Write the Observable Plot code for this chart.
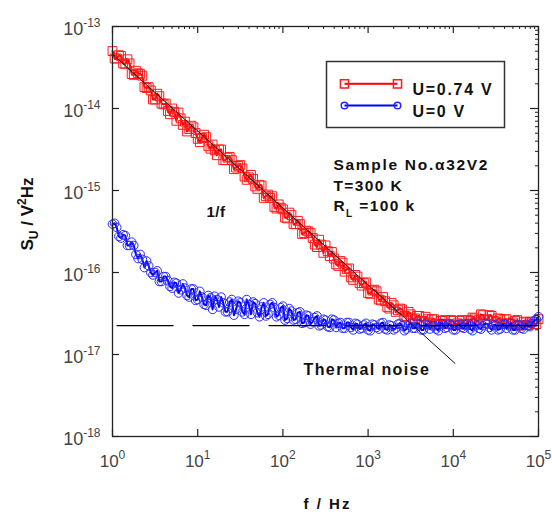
<!DOCTYPE html>
<html><head><meta charset="utf-8">
<script src="https://cdn.jsdelivr.net/npm/d3@7"></script>
<script src="https://cdn.jsdelivr.net/npm/@observablehq/plot@0.6"></script>
<style>
body{margin:0;background:#fff;}
#wrap{width:552px;height:515px;}
</style></head><body><div id="wrap"></div>
<script>
// ---- data (log10 of frequency / Hz and of S_U / V^2Hz) ----
const logF = [0.00,0.05,0.10,0.15,0.20,0.25,0.30,0.35,0.40,0.45,0.50,0.55,0.60,0.65,0.70,0.75,0.80,0.85,0.90,0.95,
  1.00,1.05,1.10,1.15,1.20,1.25,1.30,1.35,1.40,1.45,1.50,1.55,1.60,1.65,1.70,1.75,1.80,1.85,1.90,1.95,
  2.00,2.05,2.10,2.15,2.20,2.25,2.30,2.35,2.40,2.45,2.50,2.55,2.60,2.65,2.70,2.75,2.80,2.85,2.90,2.95,
  3.00,3.05,3.10,3.15,3.20,3.25,3.30,3.35,3.40,3.45,3.50,3.55,3.60,3.65,3.70,3.75,3.80,3.85,3.90,3.95,
  4.00,4.05,4.10,4.15,4.20,4.25,4.30,4.35,4.40,4.45,4.50,4.55,4.60,4.65,4.70,4.75,4.80,4.85,4.90,4.95,5.00];
const redLogS = [-13.30,-13.39,-13.36,-13.46,-13.45,-13.59,-13.57,-13.60,-13.75,-13.78,-13.89,-13.85,-13.95,-14.03,-14.00,-14.15,-14.12,-14.16,-14.25,-14.23,
  -14.37,-14.36,-14.35,-14.49,-14.51,-14.50,-14.63,-14.60,-14.63,-14.72,-14.69,-14.83,-14.84,-14.86,-14.98,-14.94,-15.07,-15.09,-15.20,-15.17,
  -15.23,-15.34,-15.30,-15.41,-15.41,-15.52,-15.50,-15.58,-15.69,-15.66,-15.67,-15.80,-15.83,-15.92,-15.88,-15.96,-16.06,-16.03,-16.13,-16.13,
  -16.25,-16.22,-16.23,-16.34,-16.35,-16.44,-16.40,-16.46,-16.45,-16.54,-16.51,-16.56,-16.53,-16.59,-16.57,-16.57,-16.63,-16.59,-16.58,-16.63,
  -16.59,-16.62,-16.58,-16.64,-16.59,-16.56,-16.58,-16.52,-16.57,-16.53,-16.60,-16.57,-16.57,-16.62,-16.61,-16.58,-16.64,-16.61,-16.60,-16.63,-16.57];
const blueLogS = [-15.41,-15.45,-15.58,-15.55,-15.67,-15.67,-15.83,-15.84,-15.86,-16.00,-16.00,-16.11,-16.05,-16.10,-16.19,-16.13,-16.21,-16.19,-16.30,-16.20,
  -16.33,-16.30,-16.40,-16.31,-16.29,-16.42,-16.37,-16.48,-16.33,-16.45,-16.37,-16.51,-16.39,-16.36,-16.49,-16.42,-16.53,-16.39,-16.43,-16.52,
  -16.41,-16.56,-16.47,-16.57,-16.48,-16.61,-16.53,-16.60,-16.53,-16.64,-16.58,-16.67,-16.58,-16.62,-16.68,-16.61,-16.67,-16.62,-16.69,-16.64,
  -16.70,-16.63,-16.67,-16.62,-16.69,-16.64,-16.70,-16.63,-16.65,-16.69,-16.62,-16.68,-16.63,-16.70,-16.64,-16.65,-16.69,-16.62,-16.68,-16.63,
  -16.70,-16.64,-16.67,-16.63,-16.69,-16.62,-16.68,-16.65,-16.63,-16.70,-16.64,-16.69,-16.63,-16.65,-16.70,-16.64,-16.68,-16.63,-16.66,-16.59,-16.54];
// in-between spectral points
const logFMid = [0.025,0.075,0.125,0.175,0.225,0.275,0.325,0.375,0.425,0.475,0.525,0.575,0.625,0.675,0.725,0.775,0.825,0.875,0.925,0.975,
  1.025,1.075,1.125,1.175,1.225,1.275,1.325,1.375,1.425,1.475,1.525,1.575,1.625,1.675,1.725,1.775,1.825,1.875,1.925,1.975,
  2.025,2.075,2.125,2.175,2.225,2.275,2.325,2.375,2.425,2.475,2.525,2.575,2.625,2.675,2.725,2.775,2.825,2.875,2.925,2.975,
  3.025,3.075,3.125,3.175,3.225,3.275,3.325,3.375,3.425,3.475,3.525,3.575,3.625,3.675,3.725,3.775,3.825,3.875,3.925,3.975,
  4.025,4.075,4.125,4.175,4.225,4.275,4.325,4.375,4.425,4.475,4.525,4.575,4.625,4.675,4.725,4.775,4.825,4.875,4.925,4.975];
const redMidLogS = [-13.39,-13.35,-13.45,-13.40,-13.58,-13.54,-13.58,-13.74,-13.74,-13.89,-13.82,-13.94,-13.94,-14.07,-14.04,-14.05,-14.20,-14.28,-14.21,-14.30,
  -14.41,-14.32,-14.46,-14.44,-14.57,-14.50,-14.63,-14.59,-14.74,-14.70,-14.73,-14.87,-14.81,-14.95,-14.93,-15.09,-15.05,-15.07,-15.22,-15.21,
  -15.33,-15.27,-15.41,-15.37,-15.53,-15.49,-15.52,-15.66,-15.60,-15.76,-15.74,-15.75,-15.90,-15.86,-15.99,-15.95,-16.09,-16.05,-16.16,-16.12,
  -16.26,-16.21,-16.33,-16.30,-16.42,-16.37,-16.48,-16.44,-16.53,-16.48,-16.57,-16.53,-16.60,-16.54,-16.61,-16.57,-16.63,-16.59,-16.63,-16.58,
  -16.64,-16.59,-16.63,-16.58,-16.55,-16.60,-16.51,-16.58,-16.52,-16.59,-16.56,-16.62,-16.57,-16.63,-16.59,-16.65,-16.60,-16.64,-16.60,-16.63];
const blueMidLogS = [-15.40,-15.56,-15.54,-15.67,-15.63,-15.78,-15.78,-15.94,-15.92,-16.03,-15.98,-16.11,-16.05,-16.17,-16.12,-16.25,-16.14,-16.28,-16.20,-16.34,
  -16.23,-16.39,-16.28,-16.45,-16.33,-16.30,-16.48,-16.36,-16.52,-16.35,-16.48,-16.33,-16.51,-16.38,-16.54,-16.37,-16.51,-16.37,-16.54,-16.43,
  -16.58,-16.44,-16.58,-16.49,-16.62,-16.52,-16.63,-16.55,-16.65,-16.57,-16.66,-16.57,-16.67,-16.61,-16.68,-16.61,-16.70,-16.63,-16.68,-16.62,
  -16.71,-16.64,-16.69,-16.61,-16.70,-16.65,-16.68,-16.62,-16.71,-16.64,-16.68,-16.62,-16.70,-16.63,-16.69,-16.65,-16.71,-16.62,-16.67,-16.64,
  -16.70,-16.63,-16.68,-16.62,-16.71,-16.64,-16.69,-16.62,-16.67,-16.64,-16.70,-16.63,-16.68,-16.62,-16.70,-16.64,-16.69,-16.65,-16.62,-16.57];
const fitF = [1, 10470];          // 1/f fit line
const fitS = [4.6e-14, 7.8e-18];
const thermalF = [1.13, 1e5];     // thermal noise level
const thermalS = [2.25e-17, 2.25e-17];
const seriesNames = ["U=0.74 V", "U=0 V"];
const xTicks = [1, 10, 100, 1000, 1e4, 1e5];
const xTickExp = ["0", "1", "2", "3", "4", "5"];
const yTicks = [1e-18, 1e-17, 1e-16, 1e-15, 1e-14, 1e-13];
const yTickExp = ["-18", "-17", "-16", "-15", "-14", "-13"];
const infoLines = ["Sample No.\u03b132V2", "T=300 K", "R_{L} =100 k"];
const xTitle = "f / Hz", yTitle = "S_{U} / V^{2}Hz";

// ---- build ----
const W = 552, H = 515, mL = 112, mR = 14, mT = 26, mB = 79;
const iw = W - mL - mR, ih = H - mT - mB;
function series(logS, midS) {
  const a = logF.map((lf, i) => ({f: Math.pow(10, lf), s: Math.pow(10, logS[i])}));
  const b = logFMid.map((lf, i) => ({f: Math.pow(10, lf), s: Math.pow(10, midS[i])}));
  return a.concat(b).sort((p, q) => p.f - q.f);
}
const red = series(redLogS, redMidLogS);
const blue = series(blueLogS, blueMidLogS);
const fit = fitF.map((f, i) => ({f, s: fitS[i]}));
const thermal = thermalF.map((f, i) => ({f, s: thermalS[i]}));
const xMinor = [], yMinor = [];
for (let d = 0; d < 5; d++) for (let k = 2; k <= 9; k++) xMinor.push(k * Math.pow(10, d));
for (let e = -18; e < -13; e++) for (let k = 2; k <= 9; k++) yMinor.push(k * Math.pow(10, e));

const FONT = 'Arial, "Liberation Sans", sans-serif';
const INK = "#222";
const TXT = "#111";
const at = (px, py) => ({frameAnchor: "top-left", dx: px - mL, dy: py - mT});

const plot = Plot.plot({
  width: W, height: H, marginLeft: mL, marginRight: mR, marginTop: mT, marginBottom: mB,
  style: {fontFamily: FONT, background: "white", overflow: "visible"},
  x: {type: "log", domain: [1, 1e5], axis: null},
  y: {type: "log", domain: [1e-18, 1e-13], axis: null},
  marks: [
    Plot.line(red, {x: "f", y: "s", stroke: "#ff0000", strokeWidth: 2}),
    Plot.dot(red, {x: "f", y: "s", symbol: "square", r: 5, stroke: "#ff1a1a", strokeWidth: 1, fill: "none"}),
    Plot.line(blue, {x: "f", y: "s", stroke: "#0000ff", strokeWidth: 2}),
    Plot.dot(blue, {x: "f", y: "s", symbol: "circle", r: 4.3, stroke: "#2a2aff", strokeWidth: 1, fill: "none"}),
    Plot.line(thermal, {x: "f", y: "s", stroke: "#000", strokeWidth: 1.4, strokeDasharray: "56,20"}),
    Plot.line(fit, {x: "f", y: "s", stroke: "#111", strokeWidth: 1}),
    Plot.frame({stroke: INK, strokeWidth: 1.3}),
    // ticks (inward)
    Plot.ruleX(xTicks, {x: d => d, insetTop: ih - 7, stroke: INK, strokeWidth: 1.2}),
    Plot.ruleX(xTicks, {x: d => d, insetBottom: ih - 7, stroke: INK, strokeWidth: 1.2}),
    Plot.ruleX(xMinor, {x: d => d, insetBottom: ih - 3, stroke: INK, strokeWidth: 1}),
    Plot.ruleY(yTicks, {y: d => d, insetRight: iw - 7, stroke: INK, strokeWidth: 1.2}),
    Plot.ruleY(yTicks, {y: d => d, insetLeft: iw - 8, stroke: INK, strokeWidth: 1.2}),
    Plot.ruleY(yMinor, {y: d => d, insetLeft: iw - 3, stroke: INK, strokeWidth: 1}),
    // tick labels
    Plot.text(xTicks, {x: d => d, frameAnchor: "bottom", dy: 30, text: (d, i) => "10^{" + xTickExp[i] + "}",
      fontSize: 17, fill: "#444", textAnchor: "middle"}),
    Plot.text(yTicks, {y: d => d, frameAnchor: "left", dx: -12, dy: 3, text: (d, i) => "10^{" + yTickExp[i] + "}",
      fontSize: 18, fill: "#444", textAnchor: "end"}),
    // axis titles
    Plot.text([xTitle], {frameAnchor: "bottom", dx: 2, dy: 72, fontSize: 15, fontWeight: "bold", fill: TXT}),
    Plot.text([yTitle], {frameAnchor: "left", dx: -85, dy: 19, rotate: -90, textAnchor: "start", fontSize: 17, fontWeight: "bold", fill: TXT}),
    // legend box and samples
    Plot.frame({insetLeft: 326 - mL, insetRight: mL + iw - 504, insetTop: 61 - mT, insetBottom: mT + ih - 127, stroke: "#333", strokeWidth: 1.5}),
    Plot.frame({insetLeft: 344 - mL, insetRight: mL + iw - 397, insetTop: 82.3 - mT, insetBottom: mT + ih - 84.3, fill: "#ff0000", stroke: "none"}),
    Plot.frame({insetLeft: 344 - mL, insetRight: mL + iw - 397, insetTop: 104 - mT, insetBottom: mT + ih - 106, fill: "#0000ff", stroke: "none"}),
    Plot.dot([seriesNames[0]], {...at(344, 83.3), symbol: "square", r: 4.6, stroke: "#ff1a1a", fill: "none"}),
    Plot.dot([seriesNames[0]], {...at(397, 83.3), symbol: "square", r: 4.6, stroke: "#ff1a1a", fill: "none"}),
    Plot.dot([seriesNames[1]], {...at(344, 105), symbol: "circle", r: 3.3, stroke: "#2a2aff", fill: "none"}),
    Plot.dot([seriesNames[1]], {...at(397, 105), symbol: "circle", r: 3.3, stroke: "#2a2aff", fill: "none"}),
    Plot.text([seriesNames[0]], {...at(412, 83.5), textAnchor: "start", fontSize: 16, fontWeight: "bold", fill: TXT}),
    Plot.text([seriesNames[1]], {...at(412, 105.5), textAnchor: "start", fontSize: 16, fontWeight: "bold", fill: TXT}),
    // annotations
    Plot.text([infoLines[0]], {...at(333, 158), textAnchor: "start", fontSize: 15.5, fontWeight: "bold", fill: TXT}),
    Plot.text([infoLines[1]], {...at(333, 179), textAnchor: "start", fontSize: 15.5, fontWeight: "bold", fill: TXT}),
    Plot.text([infoLines[2]], {...at(333, 199), textAnchor: "start", fontSize: 15.5, fontWeight: "bold", fill: TXT}),
    Plot.text(["1/f"], {...at(206, 206), textAnchor: "start", fontSize: 15, fontWeight: "bold", fill: TXT}),
    Plot.text(["Thermal noise"], {...at(303, 363), textAnchor: "start", fontSize: 16, fontWeight: "bold", fill: TXT})
  ]
});

// letter spacing per text, and rich text: ^{..} superscript, _{..} subscript
const spacingMap = {
  [seriesNames[0]]: 1.7, [seriesNames[1]]: 1.7,
  [infoLines[0]]: 1.7, [infoLines[1]]: 1.4, [infoLines[2]]: 1.4,
  "Thermal noise": 1.4, [xTitle]: 2, [yTitle]: 0, "1/f": 0.5
};
plot.querySelectorAll("text").forEach(t => {
  const s = t.textContent;
  if (spacingMap[s] !== undefined) t.setAttribute("letter-spacing", spacingMap[s]);
  if (!/[\^_]\{/.test(s)) return;
  let cfg;
  if (s.startsWith("10^")) cfg = {sup: 12, supShift: 8};
  else if (s === yTitle) cfg = {sup: 12, supShift: 7, sub: 12, subShift: 5};
  else cfg = {sub: 10, subShift: 6};
  const parts = s.split(/(\^\{[^}]*\}|_\{[^}]*\})/).filter(p => p !== "");
  t.textContent = "";
  for (const p of parts) {
    const ts = document.createElementNS("http://www.w3.org/2000/svg", "tspan");
    if (p.startsWith("^{")) {
      ts.textContent = p.slice(2, -1);
      ts.setAttribute("font-size", cfg.sup);
      ts.setAttribute("baseline-shift", cfg.supShift);
    } else if (p.startsWith("_{")) {
      ts.textContent = p.slice(2, -1);
      ts.setAttribute("font-size", cfg.sub);
      ts.setAttribute("baseline-shift", -cfg.subShift);
    } else ts.textContent = p;
    t.appendChild(ts);
  }
});

document.getElementById("wrap").appendChild(plot);
</script>
</body></html>
